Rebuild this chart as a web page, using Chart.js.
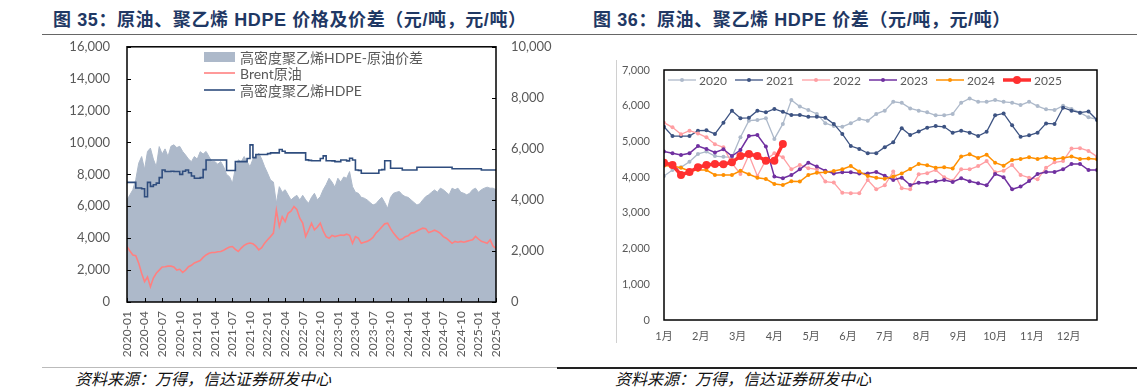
<!DOCTYPE html>
<html>
<head>
<meta charset="utf-8">
<script src="https://cdn.jsdelivr.net/npm/chart.js@4.4.1/dist/chart.umd.min.js"></script>
<style>
  body { margin: 0; width: 1137px; height: 392px; background: #fff; position: relative; overflow: hidden; }
  .title { position: absolute; top: 10px; font-family: "Liberation Sans", "Noto Sans CJK SC", sans-serif; font-size: 18px; letter-spacing: 0.6px; font-weight: bold; color: #1f3864; white-space: nowrap; line-height: 20px; }
  .source { position: absolute; top: 369px; font-family: "Noto Sans CJK SC", sans-serif; font-size: 16px; font-style: italic; color: #111; white-space: nowrap; line-height: 18px; }
  .rule { position: absolute; height: 1px; }
  canvas { position: absolute; }
</style>
</head>
<body>

<div class="title" style="left:53px">图 35：原油、聚乙烯 HDPE 价格及价差（元/吨，元/吨）</div>
<div class="title" style="left:593px">图 36：原油、聚乙烯 HDPE 价差（元/吨，元/吨）</div>
<div class="rule" style="left:42px; top:34px; width:1095px; background:#666"></div>
<div class="rule" style="left:42px; top:367px; width:515px; background:#bbb"></div>
<div class="rule" style="left:557px; top:367px; width:580px; height:2px; background:#222"></div>
<div style="position:absolute; left:616px; top:60px; width:1px; height:283px; background:#d0d0d0"></div>

<canvas id="c35" width="520" height="344" style="left:40px; top:22px"></canvas>
<canvas id="c36" width="537" height="330" style="left:600px; top:36px"></canvas>

<div class="source" style="left:75px">资料来源：万得，信达证券研发中心</div>
<div class="source" style="left:615px">资料来源：万得，信达证券研发中心</div>

<script>
// ---- fig 35: half-monthly samples, index i = i/2 months after 2020-01 ----
const tickLabels35 = ['2020-01','2020-04','2020-07','2020-10','2021-01','2021-04','2021-07','2021-10',
  '2022-01','2022-04','2022-07','2022-10','2023-01','2023-04','2023-07','2023-10',
  '2024-01','2024-04','2024-07','2024-10','2025-01','2025-04'];

const hdpePrice = [
  7500,7500,7500,7150,7150,7100,6600,7500,7250,7350,7450,7800,
  8280,8180,8180,8200,8180,8180,8000,8200,8280,8100,7900,7760,
  7760,7800,8300,8900,8900,8900,8900,8900,8900,8900,8240,8240,
  8240,8800,8800,8800,8800,9000,9850,9050,9250,9250,9250,9250,
  9300,9350,9350,9350,9560,9450,9350,9350,9350,9350,9350,9350,
  9350,8910,8880,8860,8860,8860,9000,9160,8860,8860,8850,8800,
  8800,8900,8900,8850,9010,8900,8280,8250,8070,8070,8070,8070,
  8070,8070,8280,8300,8860,8860,8390,8390,8390,8390,8280,8280,
  8280,8280,8280,8450,8450,8450,8450,8450,8450,8450,8450,8450,
  8450,8450,8450,8350,8350,8350,8350,8350,8350,8350,8350,8350,
  8350,8280,8280,8280,8280,8280,8280
];

const brentPrice = [
  3470,3200,2950,2900,2430,1800,1270,1570,960,1500,1800,2000,
  2200,2210,2250,2250,2200,2000,2050,1860,2000,2210,2300,2450,
  2530,2600,2800,2950,3060,3100,3100,3150,3170,3250,3350,3450,
  3480,3300,3170,3380,3550,3650,3700,3650,3500,3270,3400,3690,
  3900,4100,4320,5770,4730,5350,5040,5560,5700,5980,5800,5250,
  4950,4110,4500,4940,4520,4700,4940,4450,4100,4000,4180,4100,
  4150,4200,4180,4250,4180,3680,4100,4000,3680,3750,3800,3900,
  4050,4320,4500,4700,4900,4940,4600,4320,4100,3900,3950,4100,
  4150,4320,4350,4450,4550,4630,4600,4350,4420,4500,4420,4300,
  4100,4000,3850,3680,3800,3750,3800,3750,3800,3850,3900,4110,
  3950,3800,3750,3680,3900,3500,3370
];

const hdpeSpread = [
  4000,4200,4400,4800,5440,5700,5200,5900,6030,5600,5300,6090,
  5800,6000,5700,6100,6160,6050,6100,5900,5760,5600,5500,5700,
  5600,5890,5800,5900,5700,5500,5500,5400,5500,5300,5000,4910,
  4650,5240,5570,5500,5700,5500,5300,5600,5700,5830,5600,5300,
  5050,4780,4700,3870,4520,4300,4400,4200,4000,4100,4180,4000,
  4180,4000,3870,4100,4260,4000,4130,4400,4600,4850,4700,4500,
  4850,4700,4900,4850,5110,4520,4300,4260,4100,4070,4000,3900,
  3800,3850,3990,4100,3900,3670,4100,4260,4300,4330,4200,4130,
  4100,4000,3900,3800,3850,4000,4130,4200,4300,4390,4300,4460,
  4400,4300,4200,4460,4400,4460,4300,4260,4200,4260,4400,4460,
  4300,4400,4460,4500,4460,4460,4400
];

// ---- fig 36: weekly spread by year, index = week of year ----
const monthLabels = ['1月','2月','3月','4月','5月','6月','7月','8月','9月','10月','11月','12月'];
const yearLabels = ['2020','2021','2022','2023','2024','2025'];

const spread2020 = [
  4030,4200,4275,4430,4650,4715,4590,4570,4555,5115,5580,5600,5650,5070,5490,6160,5975,5880,5770,5510,
  5430,5410,5510,5630,5580,5770,5860,6110,6080,5925,5860,5815,5730,5730,5770,6085,6205,6110,6110,6160,
  6110,6085,6020,6110,5990,5900,5880,6000,5910,5805,5675,5620
];
const spread2021 = [
  5413,5150,5150,5150,5300,5310,5210,5525,5860,5650,5660,5860,5815,5910,5830,5740,5740,5690,5690,5665,
  5490,5210,4870,4790,4670,4670,4840,4975,5370,5180,5280,5385,5430,5410,5245,5300,5245,5150,5270,5730,
  5785,5450,5130,5170,5245,5505,5490,5945,5860,5805,5840,5600
];
const spread2022 = [
  5525,5395,5200,5300,5225,5115,4920,4835,4390,4090,4620,4030,4480,4670,4555,4220,4340,4250,4220,3875,
  3850,3565,3550,3550,3920,3660,3770,4155,3690,3660,4080,4110,4200,4000,3900,4220,4220,4310,4450,4135,
  4180,4340,4060,3985,3940,4265,4415,4450,4800,4810,4735,4575
];
const spread2023 = [
  4715,4670,4620,4670,4870,4790,4690,4780,4590,4760,5150,5180,4855,4015,3970,4060,4220,4405,4295,4180,
  4105,4135,4135,4105,4105,4145,4040,3920,3985,3780,3845,3845,3885,3920,3865,3970,3885,3830,3770,4090,
  4000,3660,3735,3890,4090,4145,4145,4220,4370,4370,4200,4200
];
const spread2024 = [
  4320,4310,4265,4170,4200,4200,4060,4060,4060,4180,4080,3985,3950,3810,3780,3885,3875,4060,4125,4135,
  4170,4220,4310,4155,4030,3985,3955,4015,4105,4230,4370,4330,4265,4275,4245,4575,4640,4535,4630,4405,
  4320,4480,4510,4555,4510,4555,4510,4535,4575,4510,4520,4500
];
const spread2025 = [4405,4340,4060,4145,4275,4340,4370,4360,4415,4590,4650,4590,4460,4460,4930];

const FONT = 'Lato, "Noto Sans CJK SC", sans-serif';
const GREY = '#595959';

function halfMonthPoints(arr) { return arr.map((v, i) => ({ x: i / 2, y: v })); }
function weekPoints(arr) { return arr.map((v, i) => ({ x: i, y: v })); }
const fmt = v => Number(v).toLocaleString('en-US');

// black box round the plot, optional inward tick marks
const framePlugin = {
  id: 'frame',
  afterDatasetsDraw(chart, args, opts) {
    const { ctx, chartArea: a } = chart;
    ctx.save();
    ctx.strokeStyle = '#000';
    ctx.lineWidth = 1.5;
    ctx.strokeRect(a.left, a.top, a.right - a.left, a.bottom - a.top);
    if (opts.innerTicks) {
      ctx.lineWidth = 1;
      ctx.beginPath();
      for (const t of chart.scales.x.ticks) {
        const px = Math.round(chart.scales.x.getPixelForValue(t.value)) + 0.5;
        ctx.moveTo(px, a.bottom); ctx.lineTo(px, a.bottom - 4);
      }
      for (const t of chart.scales.y.ticks) {
        const py = Math.round(chart.scales.y.getPixelForValue(t.value)) + 0.5;
        ctx.moveTo(a.left, py); ctx.lineTo(a.left + 4, py);
      }
      for (const t of chart.scales.y1.ticks) {
        const py = Math.round(chart.scales.y1.getPixelForValue(t.value)) + 0.5;
        ctx.moveTo(a.right, py); ctx.lineTo(a.right - 4, py);
      }
      ctx.stroke();
    }
    ctx.restore();
  }
};

const legend35 = {
  id: 'legend35',
  afterDraw(chart) {
    const ctx = chart.ctx;
    const ds = chart.data.datasets;
    const rows = [ds[2], ds[1], ds[0]];
    const ys = [35, 51, 68];
    ctx.save();
    ctx.font = '14px ' + FONT;
    ctx.textBaseline = 'middle';
    rows.forEach((d, i) => {
      if (d.fill) {
        ctx.fillStyle = d.backgroundColor;
        ctx.fillRect(164, ys[i] - 5, 31, 10);
      } else {
        ctx.strokeStyle = d.borderColor;
        ctx.lineWidth = 1.6;
        ctx.beginPath(); ctx.moveTo(164, ys[i]); ctx.lineTo(195, ys[i]); ctx.stroke();
      }
      ctx.fillStyle = GREY;
      ctx.fillText(d.label, 200, ys[i] + 1);
    });
    ctx.restore();
  }
};

const legend36 = {
  id: 'legend36',
  afterDraw(chart) {
    const ctx = chart.ctx;
    ctx.save();
    ctx.font = '12px ' + FONT;
    ctx.textBaseline = 'middle';
    yearLabels.forEach((name, i) => {
      const d = chart.data.datasets.find(s => s.label === name);
      const x0 = 68 + 67 * i, y = 44;
      ctx.strokeStyle = d.borderColor;
      ctx.lineWidth = d.borderWidth;
      ctx.beginPath(); ctx.moveTo(x0, y); ctx.lineTo(x0 + 28, y); ctx.stroke();
      ctx.fillStyle = d.borderColor;
      ctx.beginPath(); ctx.arc(x0 + 14, y, d.pointRadius, 0, Math.PI * 2); ctx.fill();
      ctx.fillStyle = GREY;
      ctx.fillText(name, x0 + 31, y + 1);
    });
    ctx.restore();
  }
};

const tickFont = size => ({ family: FONT, size: size });

new Chart(document.getElementById('c35'), {
  type: 'line',
  data: {
    datasets: [
      { label: '高密度聚乙烯HDPE', data: halfMonthPoints(hdpePrice), borderColor: '#2f4d7e', borderWidth: 1.6,
        pointRadius: 0, stepped: true, yAxisID: 'y' },
      { label: 'Brent原油', data: halfMonthPoints(brentPrice), borderColor: '#ff8080', borderWidth: 1.6,
        pointRadius: 0, yAxisID: 'y' },
      { label: '高密度聚乙烯HDPE-原油价差', data: halfMonthPoints(hdpeSpread), borderColor: '#adb9ca',
        backgroundColor: '#adb9ca', borderWidth: 1, pointRadius: 0, fill: 'origin', yAxisID: 'y1' }
    ]
  },
  options: {
    responsive: false,
    animation: false,
    // y tick padding already reserves ~25px on top
    layout: { padding: { top: 24, left: 0, right: 0, bottom: 0 } },
    plugins: { legend: { display: false }, tooltip: { enabled: false }, frame: { innerTicks: true } },
    scales: {
      x: {
        type: 'linear', min: 0, max: 63,
        grid: { display: false, drawTicks: false }, border: { display: false },
        ticks: { stepSize: 3, autoSkip: false, minRotation: 90, maxRotation: 90, padding: 9,
          color: GREY, font: tickFont(12), callback: v => tickLabels35[Math.round(v / 3)] },
        afterFit: s => { s.height = 64; }
      },
      y: {
        position: 'left', min: 0, max: 16000,
        grid: { display: false, drawTicks: false }, border: { display: false },
        ticks: { stepSize: 2000, padding: 17, color: GREY, font: tickFont(13), callback: fmt },
        afterFit: s => { s.width = 87; }
      },
      y1: {
        position: 'right', min: 0, max: 10000,
        grid: { display: false, drawTicks: false }, border: { display: false },
        ticks: { stepSize: 2000, padding: 15, color: GREY, font: tickFont(13), callback: fmt },
        afterFit: s => { s.width = 64; }
      }
    }
  },
  plugins: [framePlugin, legend35]
});

const yearStyles = {
  '2020': { color: '#adb9ca', width: 1.3, r: 2 },
  '2021': { color: '#3d5382', width: 1.3, r: 2 },
  '2022': { color: '#ff9ea2', width: 1.3, r: 2 },
  '2023': { color: '#7030a0', width: 1.5, r: 2 },
  '2024': { color: '#ff9000', width: 1.5, r: 2 },
  '2025': { color: '#ff3030', width: 3.5, r: 4 }
};
const yearData = { '2020': spread2020, '2021': spread2021, '2022': spread2022,
  '2023': spread2023, '2024': spread2024, '2025': spread2025 };

new Chart(document.getElementById('c36'), {
  type: 'line',
  data: {
    datasets: yearLabels.slice().reverse().map(y => ({
      label: y,
      data: weekPoints(yearData[y]),
      borderColor: yearStyles[y].color,
      backgroundColor: yearStyles[y].color,
      borderWidth: yearStyles[y].width,
      pointRadius: yearStyles[y].r,
      pointBorderWidth: 0,
      tension: 0
    }))
  },
  options: {
    responsive: false,
    animation: false,
    layout: { padding: { top: 34, left: 0, right: 40, bottom: 0 } },
    plugins: { legend: { display: false }, tooltip: { enabled: false }, frame: { innerTicks: false } },
    scales: {
      x: {
        type: 'linear', min: 0, max: 51,
        grid: { display: false, drawTicks: false }, border: { display: false },
        afterBuildTicks: s => { s.ticks = monthLabels.map((_, i) => ({ value: i * 52 / 12 })); },
        ticks: { autoSkip: false, maxRotation: 0, padding: 10, color: GREY, font: tickFont(11),
          callback: (v, i) => monthLabels[i] },
        afterFit: s => { s.height = 46; }
      },
      y: {
        min: 0, max: 7000,
        grid: { display: false, drawTicks: false }, border: { display: false },
        ticks: { stepSize: 1000, padding: 14, color: GREY, font: tickFont(11), callback: fmt },
        afterFit: s => { s.width = 64; }
      }
    }
  },
  plugins: [framePlugin, legend36]
});
</script>
</body>
</html>
